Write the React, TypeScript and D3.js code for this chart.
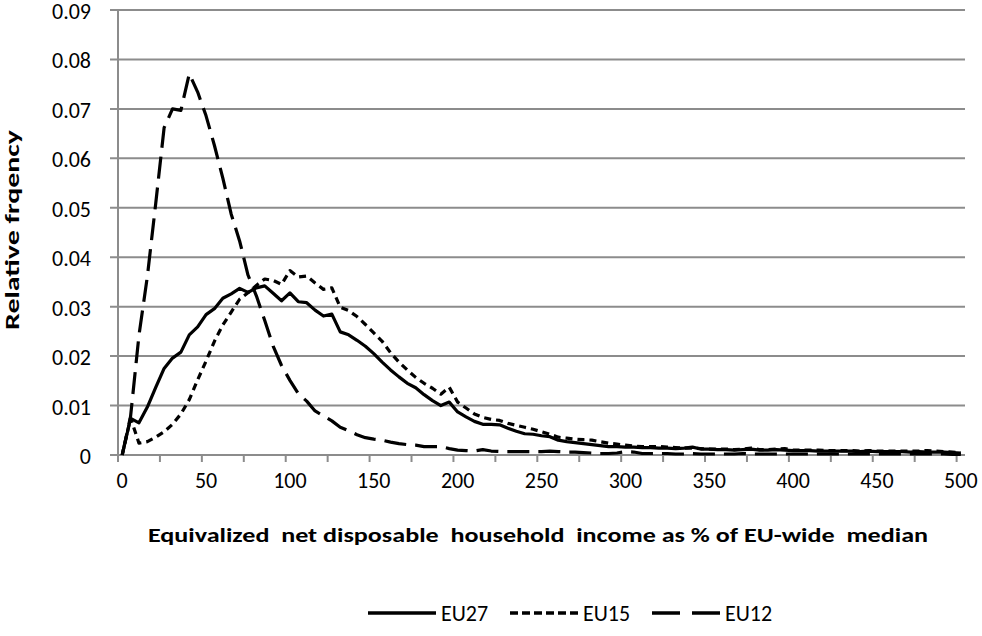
import { useRef, useEffect } from 'react';
import * as d3 from 'd3';

// Income bins, % of EU-wide median (one category per 5 points)
const categories: number[] = d3.range(0, 501, 5);
const xTickLabels: number[] = [0, 50, 100, 150, 200, 250, 300, 350, 400, 450, 500];
const yTicks: number[] = [0, 0.01, 0.02, 0.03, 0.04, 0.05, 0.06, 0.07, 0.08, 0.09];

const eu27: number[] = [
  0, 0.0074, 0.0065, 0.0097, 0.0137, 0.0175, 0.0196, 0.0208, 0.0243, 0.0259,
  0.0284, 0.0296, 0.0317, 0.0326, 0.0337, 0.0329, 0.0338, 0.0342, 0.0327, 0.0312,
  0.0328, 0.031, 0.0308, 0.0293, 0.0281, 0.0285, 0.0249, 0.0243, 0.0232, 0.022,
  0.0205, 0.0188, 0.0172, 0.0158, 0.0145, 0.0136, 0.0122, 0.011, 0.01, 0.0107,
  0.0087, 0.0077, 0.0068, 0.0062, 0.0062, 0.0061, 0.0054, 0.0048, 0.0043, 0.0042,
  0.0039, 0.0037, 0.003, 0.0027, 0.0025, 0.0023, 0.0021, 0.0019, 0.0017, 0.0017,
  0.0016, 0.0016, 0.0015, 0.0015, 0.0014, 0.0014, 0.0013, 0.0014, 0.0016, 0.0012,
  0.0012, 0.0011, 0.0011, 0.001, 0.0011, 0.0012, 0.001, 0.001, 0.0011, 0.001,
  0.0009, 0.0009, 0.0009, 0.0008, 0.0008, 0.0008, 0.0008, 0.0008, 0.0007, 0.0008,
  0.0007, 0.0007, 0.0007, 0.0007, 0.0006, 0.0007, 0.0006, 0.0006, 0.0006, 0.0005,
  0.0004,
];

const eu15: number[] = [
  0, 0.0075, 0.0024, 0.0027, 0.0036, 0.0047, 0.0062, 0.0083, 0.0112, 0.0152,
  0.019, 0.023, 0.0263, 0.0289, 0.0315, 0.0328, 0.0343, 0.0356, 0.0353, 0.0345,
  0.0373, 0.036, 0.0362, 0.0348, 0.0335, 0.0338, 0.0299, 0.0292, 0.028, 0.0264,
  0.0247, 0.023, 0.0207, 0.0188, 0.0172, 0.0157, 0.0145, 0.0135, 0.0123, 0.0137,
  0.0107, 0.0095, 0.0083, 0.0076, 0.0072, 0.007, 0.0064, 0.006, 0.0056, 0.0052,
  0.0047, 0.0042, 0.0036, 0.0034, 0.0032, 0.0031, 0.003, 0.0027, 0.0024, 0.0022,
  0.002, 0.0018, 0.0017, 0.0017, 0.0017, 0.0016, 0.0015, 0.0014, 0.0014, 0.0013,
  0.0012, 0.0012, 0.0012, 0.0011, 0.0012, 0.0014, 0.0011, 0.0011, 0.0012, 0.0013,
  0.001, 0.001, 0.001, 0.001, 0.0009, 0.0009, 0.0009, 0.0009, 0.0008, 0.0009,
  0.0008, 0.0008, 0.0008, 0.0008, 0.0008, 0.0008, 0.0009, 0.0008, 0.0007, 0.0006,
  0.0004,
];

const eu12: number[] = [
  0, 0.0078, 0.0242, 0.0361, 0.0509, 0.0662, 0.07, 0.0697, 0.0771, 0.0734,
  0.0686, 0.0626, 0.056, 0.0487, 0.0433, 0.0364, 0.0322, 0.0272, 0.022, 0.0181,
  0.0151, 0.0124, 0.0109, 0.0089, 0.0079, 0.0069, 0.0056, 0.0049, 0.0041, 0.0035,
  0.0032, 0.003, 0.0026, 0.0023, 0.0021, 0.002, 0.0017, 0.0017, 0.0017, 0.0013,
  0.001, 0.0009, 0.0008, 0.0011, 0.0008, 0.0007, 0.0007, 0.0007, 0.0007, 0.0007,
  0.0007, 0.0008, 0.0007, 0.0006, 0.0006, 0.0005, 0.0004, 0.0003, 0.0003, 0.0004,
  0.0007, 0.0006, 0.0003, 0.0003, 0.0003, 0.0003, 0.0002, 0.0002, 0.0003, 0.0002,
  0.0002, 0.0002, 0.0002, 0.0002, 0.0003, 0.0002, 0.0002, 0.0002, 0.0002, 0.0002,
  0.0002, 0.0002, 0.0002, 0.0002, 0.0002, 0.0002, 0.0002, 0.0002, 0.0002, 0.0002,
  0.0002, 0.0002, 0.0002, 0.0002, 0.0002, 0.0002, 0.0002, 0.0002, 0.0002, 0.0001,
  0.0001,
];

const seriesNames: string[] = ['EU27', 'EU15', 'EU12'];
const seriesDash: string[] = ['none', '7,5', '22,9'];
const legendDash: string[] = ['none', '8,4', '28,12'];

export default function App() {
  const chartRef = useRef<SVGSVGElement | null>(null);

  useEffect(() => {
    if (!chartRef.current) return;

    const width = 982;
    const height = 636;
    const left = 118;
    const right = 965;
    const top = 10;
    const bottom = 455;
    const font = "Calibri, Carlito, Lato, 'Liberation Sans', sans-serif";
    const gridColor = '#8c8c8c';

    const svg = d3.select(chartRef.current)
      .attr('width', width)
      .attr('height', height);
    svg.selectAll('*').remove();

    const x = d3.scaleBand<number>()
      .domain(categories)
      .range([left, right])
      .paddingInner(0)
      .paddingOuter(0);
    const cx = (c: number) => (x(c) || 0) + x.bandwidth() / 2;

    const y = d3.scaleLinear<number, number>()
      .domain([0, 0.09])
      .range([bottom, top]);

    // Horizontal gridlines + y ticks
    svg.append('g')
      .selectAll('line')
      .data(yTicks)
      .enter()
      .append('line')
      .attr('x1', left - 8)
      .attr('x2', right)
      .attr('y1', (d) => y(d))
      .attr('y2', (d) => y(d))
      .attr('stroke', gridColor)
      .attr('stroke-width', 2);

    // y axis line
    svg.append('line')
      .attr('x1', left).attr('x2', left)
      .attr('y1', top).attr('y2', bottom)
      .attr('stroke', gridColor)
      .attr('stroke-width', 2);

    // x tick marks every 5 categories, on category boundaries
    const tickCats = categories.filter((_, i) => i % 5 === 0);
    svg.append('g')
      .selectAll('line')
      .data(tickCats)
      .enter()
      .append('line')
      .attr('x1', (c) => x(c) || 0)
      .attr('x2', (c) => x(c) || 0)
      .attr('y1', bottom)
      .attr('y2', bottom + 7)
      .attr('stroke', gridColor)
      .attr('stroke-width', 2);

    // y tick labels
    svg.append('g')
      .selectAll('text')
      .data(yTicks)
      .enter()
      .append('text')
      .text((d) => (d === 0 ? '0' : d3.format('.2f')(d)))
      .attr('x', 91)
      .attr('y', (d) => y(d) + 9)
      .attr('text-anchor', 'end')
      .attr('font-family', font)
      .attr('font-size', '22px')
      .attr('fill', '#000');

    // x tick labels, centred under their category
    svg.append('g')
      .selectAll('text')
      .data(xTickLabels)
      .enter()
      .append('text')
      .text((d) => String(d))
      .attr('x', (d) => cx(d))
      .attr('y', 488)
      .attr('text-anchor', 'middle')
      .attr('font-family', font)
      .attr('font-size', '22px')
      .attr('fill', '#000');

    // axis titles
    svg.append('text')
      .text('Equivalized  net disposable  household  income as % of EU-wide  median')
      .attr('x', 538)
      .attr('y', 542)
      .attr('text-anchor', 'middle')
      .attr('font-family', font)
      .attr('font-weight', 'bold')
      .attr('font-size', '21px')
      .attr('textLength', 780)
      .attr('lengthAdjust', 'spacingAndGlyphs')
      .style('white-space', 'pre')
      .attr('fill', '#000');

    svg.append('text')
      .text('Relative frqency')
      .attr('transform', 'translate(19,230) rotate(-90)')
      .attr('text-anchor', 'middle')
      .attr('font-family', font)
      .attr('font-weight', 'bold')
      .attr('font-size', '20px')
      .attr('textLength', 200)
      .attr('lengthAdjust', 'spacingAndGlyphs')
      .attr('fill', '#000');

    // series lines
    const allSeries = [eu27, eu15, eu12];
    const line = d3.line<number>()
      .x((_, i) => cx(categories[i]))
      .y((d) => y(d));

    allSeries.forEach((s, k) => {
      svg.append('path')
        .datum(s)
        .attr('d', line)
        .attr('fill', 'none')
        .attr('stroke', '#000')
        .attr('stroke-width', 3.2)
        .attr('stroke-linejoin', 'round')
        .attr('stroke-dasharray', seriesDash[k]);
    });

    // legend
    const legendX = [368, 510, 652];
    const legendY = 613;
    const lg = svg.append('g')
      .selectAll('g')
      .data(seriesNames)
      .enter()
      .append('g')
      .attr('transform', (_, i) => `translate(${legendX[i]},${legendY})`);
    lg.append('line')
      .attr('x1', 0).attr('x2', 68)
      .attr('y1', 0).attr('y2', 0)
      .attr('stroke', '#000')
      .attr('stroke-width', 3.5)
      .attr('stroke-dasharray', (_, i) => legendDash[i]);
    lg.append('text')
      .text((d) => d)
      .attr('x', 73)
      .attr('y', 8)
      .attr('font-family', font)
      .attr('font-size', '22px')
      .attr('fill', '#000');
  }, []);

  return (
    <div style={{ position: 'absolute', left: 0, top: 0 }}>
      <svg ref={chartRef}></svg>
    </div>
  );
}
